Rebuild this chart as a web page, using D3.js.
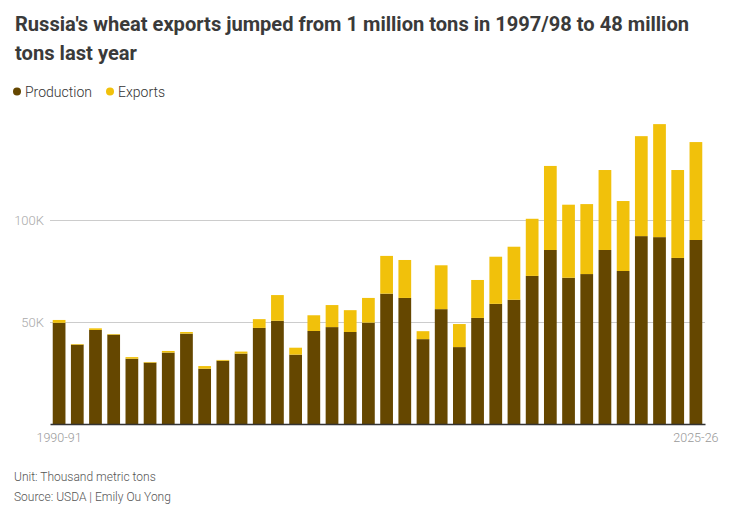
<!DOCTYPE html>
<html>
<head>
<meta charset="utf-8">
<script src="https://cdn.jsdelivr.net/npm/d3@7"></script>
<style>
  body { margin: 0; background: #fff; }
  text { font-family: Roboto, "Open Sans", sans-serif; }
</style>
</head>
<body>
<div id="chart"></div>
<script>
const WIDTH = 735;
const HEIGHT = 514;
const MARGIN = { left: 50, right: 30, top: 118, bottom: 90 };

const COLORS = { production: "#654700", exports: "#f1c10b" };

// Marketing years, 1990-91 .. 2025-26
const seasons = d3.range(1990, 2026).map(y => `${y}-${String((y + 1) % 100).padStart(2, "0")}`);

// Thousand metric tons (in thousands of K)
const production = [49.6, 38.9, 46.1, 43.8, 32.0, 30.1, 35.0, 44.3, 27.1, 31.0,
                    34.5, 47.1, 50.6, 34.0, 45.6, 47.5, 45.1, 49.7, 63.9, 61.8,
                    41.6, 56.3, 37.7, 52.0, 58.9, 60.9, 72.6, 85.3, 71.7, 73.5,
                    85.3, 75.0, 92.1, 91.6, 81.4, 90.2];
const exports = [1.4, 0.3, 0.8, 0.3, 0.8, 0.3, 0.8, 0.8, 1.3, 0.4,
                 1.0, 4.3, 12.6, 3.4, 7.7, 10.8, 10.7, 12.1, 18.5, 18.6,
                 3.9, 21.5, 11.3, 18.6, 23.1, 26.0, 28.0, 41.2, 35.8, 34.3,
                 39.2, 34.3, 49.0, 55.4, 43.1, 48.0];

const yTicks = [50, 100];
const xTickLabels = ["1990-91", "2025-26"];

const table = seasons.map((s, i) => ({ season: s, production: production[i] * 1000, exports: exports[i] * 1000 }));
const stacked = d3.stack().keys(["production", "exports"])(table);

const svg = d3.select("#chart").append("svg")
    .attr("width", WIDTH)
    .attr("height", HEIGHT);

// Title
const title = svg.append("text")
    .attr("x", 15)
    .attr("y", 31)
    .style("font-size", "19.5px")
    .style("font-weight", 700)
    .style("fill", "#3a3a3a");
title.append("tspan").attr("x", 15).attr("y", 31)
    .attr("textLength", 674).attr("lengthAdjust", "spacingAndGlyphs")
    .text("Russia's wheat exports jumped from 1 million tons in 1997/98 to 48 million");
title.append("tspan").attr("x", 15).attr("y", 60)
    .attr("textLength", 122).attr("lengthAdjust", "spacingAndGlyphs")
    .text("tons last year");

// Legend
const legend = [{ key: "production", label: "Production", x: 17 }, { key: "exports", label: "Exports", x: 110 }];
const lg = svg.append("g").selectAll("g").data(legend).join("g")
    .attr("transform", d => `translate(${d.x}, 91.5)`);
lg.append("circle").attr("r", 4).attr("fill", d => COLORS[d.key]);
lg.append("text")
    .attr("x", 8)
    .attr("dy", "0.36em")
    .style("font-size", "14px")
    .style("font-weight", 300)
    .style("fill", "#333")
    .text(d => d.label);

const x = d3.scaleBand()
    .domain(seasons)
    .range([MARGIN.left, WIDTH - MARGIN.right])
    .paddingInner(0.3)
    .paddingOuter(0.15);

const y = d3.scaleLinear()
    .domain([0, 150000])
    .range([HEIGHT - MARGIN.bottom, MARGIN.top]);

// Gridlines + y labels
const yAxis = d3.axisLeft(y)
    .tickValues(yTicks.map(v => v * 1000))
    .tickSize(-(WIDTH - MARGIN.left - MARGIN.right))
    .tickFormat(d => `${d / 1000}K`);

const ga = svg.append("g")
    .attr("transform", `translate(${MARGIN.left}, 0)`)
    .call(yAxis);
ga.select(".domain").remove();
ga.selectAll(".tick line").attr("stroke", "#cccccc").attr("stroke-width", 1);
ga.selectAll(".tick text")
    .attr("x", -6)
    .style("font-size", "13px")
    .style("font-weight", 300)
    .style("font-family", "Roboto, sans-serif")
    .attr("fill", "#aaaaaa");

// Bars
svg.append("g").selectAll("g")
    .data(stacked)
    .join("g")
    .attr("fill", d => COLORS[d.key])
    .selectAll("rect")
    .data(d => d)
    .join("rect")
    .attr("x", d => x(d.data.season))
    .attr("width", x.bandwidth())
    .attr("y", d => y(d[1]))
    .attr("height", d => y(d[0]) - y(d[1]));

// Baseline + x labels
const xAxis = d3.axisBottom(x)
    .tickValues(xTickLabels)
    .tickSize(0)
    .tickPadding(9);

const gx = svg.append("g")
    .attr("transform", `translate(0, ${y(0)})`)
    .call(xAxis);
gx.select(".domain").attr("stroke", "#333").attr("stroke-width", 1.5);
gx.selectAll(".tick text")
    .style("font-size", "12.5px")
    .style("font-weight", 300)
    .style("font-family", "Roboto, sans-serif")
    .attr("fill", "#999999");

// Footer
svg.append("text")
    .attr("x", 14).attr("y", 481)
    .style("font-size", "12px")
    .style("font-weight", 300)
    .style("fill", "#555")
    .text("Unit: Thousand metric tons");
svg.append("text")
    .attr("x", 14).attr("y", 501)
    .style("font-size", "12px")
    .style("font-weight", 300)
    .style("fill", "#555")
    .text("Source: USDA | Emily Ou Yong");
</script>
</body>
</html>
